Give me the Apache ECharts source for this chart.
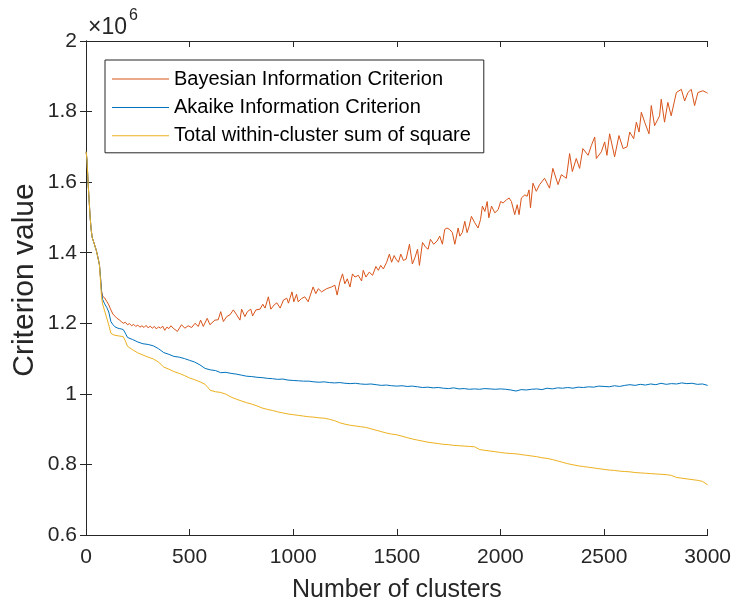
<!DOCTYPE html>
<html>
<head>
<meta charset="utf-8">
<script src="https://cdn.jsdelivr.net/npm/echarts@6/dist/echarts.min.js"></script>
<style>
  html, body { margin: 0; padding: 0; background: #ffffff; }
  #chart { width: 734px; height: 608px; }
</style>
</head>
<body>
<div id="chart"></div>
<script>
// Criterion values (in units of 10^6) against the number of clusters.

const bicClusters = [
  1, 5, 10, 15, 20, 25, 30, 40, 50, 60, 65, 70, 75, 80, 90, 100, 110, 120, 130, 140,
  150, 160, 170, 180, 190, 200, 210, 220, 230, 240, 250, 260, 270, 280, 290, 300, 310, 320, 330, 340,
  350, 360, 370, 380, 390, 400, 410, 421, 441, 461, 477, 493, 510, 526, 542, 553, 566, 585, 598, 622,
  638, 650, 663, 679, 695, 711, 727, 743, 751, 767, 779, 795, 804, 820, 840, 853, 864, 880, 892, 908,
  921, 937, 953, 969, 977, 984, 994, 1003, 1016, 1024, 1040, 1056, 1072, 1096, 1109, 1121, 1137, 1161, 1185, 1201,
  1212, 1225, 1238, 1249, 1261, 1274, 1286, 1298, 1314, 1330, 1338, 1351, 1367, 1383, 1399, 1411, 1422, 1435, 1451, 1464,
  1475, 1487, 1496, 1508, 1519, 1532, 1545, 1561, 1575, 1588, 1600, 1609, 1624, 1640, 1651, 1662, 1678, 1694, 1707, 1720,
  1731, 1742, 1755, 1768, 1780, 1796, 1804, 1816, 1828, 1839, 1849, 1860, 1876, 1892, 1904, 1913, 1925, 1936, 1944, 1957,
  1973, 1989, 2001, 2013, 2029, 2042, 2053, 2069, 2081, 2090, 2101, 2118, 2129, 2138, 2145, 2157, 2173, 2189, 2213, 2237,
  2253, 2278, 2294, 2318, 2334, 2347, 2366, 2382, 2398, 2423, 2439, 2455, 2463, 2487, 2503, 2514, 2527, 2551, 2572, 2592,
  2611, 2624, 2643, 2656, 2669, 2680, 2696, 2717, 2728, 2744, 2768, 2776, 2792, 2808, 2824, 2849, 2873, 2889, 2905, 2921,
  2937, 2953, 2977, 2994, 3000
];

const bicValues = [
  1.686, 1.660, 1.600, 1.550, 1.500, 1.465, 1.443, 1.425, 1.406, 1.380, 1.365, 1.330, 1.292, 1.277, 1.272, 1.262, 1.252, 1.238, 1.226, 1.220,
  1.214, 1.210, 1.205, 1.200, 1.203, 1.196, 1.199, 1.193, 1.197, 1.191, 1.195, 1.189, 1.193, 1.188, 1.194, 1.187, 1.192, 1.186, 1.191, 1.184,
  1.190, 1.186, 1.192, 1.180, 1.189, 1.185, 1.193, 1.186, 1.177, 1.196, 1.186, 1.193, 1.188, 1.200, 1.191, 1.209, 1.191, 1.214, 1.196, 1.209,
  1.210, 1.233, 1.205, 1.219, 1.224, 1.238, 1.224, 1.209, 1.240, 1.219, 1.233, 1.240, 1.221, 1.238, 1.240, 1.254, 1.243, 1.275, 1.240, 1.252,
  1.258, 1.243, 1.266, 1.271, 1.257, 1.252, 1.289, 1.261, 1.282, 1.261, 1.270, 1.275, 1.261, 1.303, 1.284, 1.298, 1.289, 1.298, 1.303, 1.308,
  1.280, 1.317, 1.340, 1.312, 1.326, 1.303, 1.340, 1.331, 1.336, 1.320, 1.350, 1.331, 1.345, 1.336, 1.361, 1.350, 1.364, 1.354, 1.373, 1.396,
  1.373, 1.392, 1.382, 1.373, 1.396, 1.378, 1.382, 1.424, 1.368, 1.387, 1.410, 1.364, 1.429, 1.415, 1.410, 1.438, 1.424, 1.433, 1.447, 1.424,
  1.466, 1.470, 1.466, 1.457, 1.424, 1.470, 1.447, 1.457, 1.489, 1.457, 1.475, 1.503, 1.485, 1.470, 1.494, 1.532, 1.517, 1.545, 1.499, 1.532,
  1.513, 1.522, 1.545, 1.541, 1.550, 1.555, 1.545, 1.508, 1.536, 1.508, 1.555, 1.564, 1.560, 1.578, 1.527, 1.597, 1.574, 1.593, 1.611, 1.583,
  1.639, 1.593, 1.621, 1.611, 1.681, 1.630, 1.667, 1.639, 1.695, 1.676, 1.704, 1.728, 1.667, 1.686, 1.714, 1.676, 1.737, 1.672, 1.732, 1.695,
  1.700, 1.742, 1.723, 1.770, 1.742, 1.798, 1.770, 1.737, 1.817, 1.760, 1.788, 1.835, 1.770, 1.826, 1.788, 1.854, 1.863, 1.830, 1.854, 1.863,
  1.817, 1.854, 1.859, 1.854, 1.852
];

const clusters = [
  1, 5, 10, 15, 20, 25, 30, 40, 50, 60, 65, 70, 75, 80, 90, 100, 110, 120, 130, 140,
  150, 160, 170, 180, 190, 200, 225, 250, 275, 300, 325, 350, 375, 400, 425, 450, 475, 500, 525, 550,
  575, 600, 625, 650, 675, 700, 725, 750, 775, 800, 825, 850, 875, 900, 925, 950, 975, 1000, 1025, 1050,
  1075, 1100, 1125, 1150, 1175, 1200, 1225, 1250, 1275, 1300, 1325, 1350, 1375, 1400, 1425, 1450, 1475, 1500, 1525, 1550,
  1575, 1600, 1625, 1650, 1675, 1700, 1725, 1750, 1775, 1800, 1825, 1850, 1875, 1900, 1925, 1950, 1975, 2000, 2025, 2050,
  2075, 2100, 2125, 2150, 2175, 2200, 2225, 2250, 2275, 2300, 2325, 2350, 2375, 2400, 2425, 2450, 2475, 2500, 2525, 2550,
  2575, 2600, 2625, 2650, 2675, 2700, 2725, 2750, 2775, 2800, 2825, 2850, 2875, 2900, 2925, 2950, 2975, 3000
];

const aicValues = [
  1.686, 1.660, 1.600, 1.550, 1.500, 1.465, 1.443, 1.425, 1.406, 1.380, 1.365, 1.330, 1.290, 1.268, 1.255, 1.245, 1.232, 1.205, 1.196, 1.190,
  1.187, 1.185, 1.184, 1.182, 1.172, 1.160, 1.154, 1.147, 1.142, 1.140, 1.136, 1.128, 1.117, 1.112, 1.106, 1.104, 1.100, 1.095, 1.090, 1.082,
  1.072, 1.068, 1.066, 1.060, 1.061, 1.058, 1.056, 1.053, 1.050, 1.049, 1.047, 1.046, 1.044, 1.043, 1.041, 1.042, 1.039, 1.038, 1.037, 1.036,
  1.036, 1.034, 1.033, 1.034, 1.032, 1.031, 1.032, 1.030, 1.029, 1.030, 1.028, 1.027, 1.028, 1.026, 1.024, 1.025, 1.023, 1.022, 1.023, 1.021,
  1.022, 1.020, 1.018, 1.019, 1.017, 1.018, 1.016, 1.015, 1.017, 1.014, 1.015, 1.013, 1.014, 1.013, 1.015, 1.014, 1.013, 1.014, 1.013, 1.011,
  1.008, 1.012, 1.011, 1.013, 1.014, 1.012, 1.016, 1.014, 1.017, 1.016, 1.018, 1.016, 1.019, 1.018, 1.020, 1.019, 1.022, 1.021, 1.020, 1.023,
  1.021, 1.024, 1.026, 1.024, 1.027, 1.025, 1.028, 1.026, 1.030, 1.027, 1.029, 1.028, 1.031, 1.029, 1.030, 1.027, 1.028, 1.024
];

const wcssValues = [
  1.686, 1.660, 1.600, 1.550, 1.500, 1.465, 1.443, 1.425, 1.406, 1.380, 1.365, 1.320, 1.275, 1.255, 1.235, 1.215, 1.195, 1.172, 1.168, 1.166,
  1.165, 1.164, 1.163, 1.162, 1.150, 1.135, 1.125, 1.116, 1.110, 1.104, 1.099, 1.090, 1.076, 1.070, 1.063, 1.058, 1.052, 1.045, 1.040, 1.034,
  1.027, 1.010, 1.006, 1.004, 0.999, 0.991, 0.985, 0.980, 0.975, 0.971, 0.966, 0.960, 0.956, 0.953, 0.949, 0.946, 0.943, 0.941, 0.939, 0.937,
  0.935, 0.934, 0.932, 0.931, 0.928, 0.924, 0.918, 0.914, 0.911, 0.909, 0.907, 0.905, 0.901, 0.897, 0.893, 0.889, 0.886, 0.884, 0.880, 0.876,
  0.872, 0.869, 0.866, 0.863, 0.861, 0.859, 0.857, 0.856, 0.854, 0.853, 0.852, 0.851, 0.850, 0.842, 0.840, 0.838, 0.836, 0.834, 0.832, 0.831,
  0.830, 0.828, 0.826, 0.824, 0.822, 0.819, 0.817, 0.814, 0.810, 0.806, 0.802, 0.799, 0.796, 0.794, 0.792, 0.790, 0.788, 0.786, 0.784, 0.783,
  0.781, 0.780, 0.779, 0.777, 0.776, 0.775, 0.774, 0.773, 0.772, 0.771, 0.769, 0.763, 0.761, 0.759, 0.757, 0.755, 0.752, 0.742
];

const seriesNames = [
  'Bayesian Information Criterion',
  'Akaike Information Criterion',
  'Total within-cluster sum of square'
];
const seriesColors = ['#D95319', '#0072BD', '#EDB120'];

const yTickLabels = ['0.6', '0.8', '1', '1.2', '1.4', '1.6', '1.8', '2'];
const xTickLabels = ['0', '500', '1000', '1500', '2000', '2500', '3000'];

const SCALE = 1e6;
const FONT = "'Liberation Sans', Arial, Helvetica, sans-serif";
const INK = '#262626';

function pairs(xs, ys) {
  return xs.map((x, i) => [x, ys[i] * SCALE]);
}

const chart = echarts.init(document.getElementById('chart'), null, { renderer: 'canvas' });

const axisCommon = {
  axisLine: { show: true, lineStyle: { color: INK, width: 1 } },
  axisTick: { show: true, inside: true, length: 6, lineStyle: { color: INK, width: 1 } },
  splitLine: { show: false }
};

chart.setOption({
  animation: false,
  backgroundColor: '#ffffff',
  grid: { left: 86, right: 26, top: 41, bottom: 67, containLabel: false },
  legend: {
    orient: 'vertical',
    left: 105,
    top: 60,
    padding: [9, 13, 7, 7],
    icon: 'rect',
    itemWidth: 57,
    itemHeight: 1,
    itemGap: 8.4,
    borderColor: INK,
    borderWidth: 1,
    backgroundColor: '#ffffff',
    textStyle: { fontFamily: FONT, fontSize: 20, color: '#000000' },
    data: seriesNames
  },
  xAxis: [
    Object.assign({}, axisCommon, {
      type: 'value', position: 'bottom', min: 0, max: 3000, interval: 500,
      name: 'Number of clusters', nameLocation: 'middle', nameGap: 43,
      nameTextStyle: { fontFamily: FONT, fontSize: 25, color: INK },
      axisLabel: {
        fontFamily: FONT, fontSize: 21, color: INK, margin: 12,
        formatter: (v) => xTickLabels[Math.round(v / 500)]
      }
    }),
    Object.assign({}, axisCommon, {
      type: 'value', position: 'top', min: 0, max: 3000, interval: 500,
      axisLabel: { show: false }
    })
  ],
  yAxis: [
    Object.assign({}, axisCommon, {
      type: 'value', position: 'left', min: 0.6 * SCALE, max: 2 * SCALE, interval: 0.2 * SCALE,
      axisLabel: {
        fontFamily: FONT, fontSize: 21, color: INK, margin: 9,
        formatter: (v) => yTickLabels[Math.round((v / SCALE - 0.6) / 0.2)]
      }
    }),
    Object.assign({}, axisCommon, {
      type: 'value', position: 'right', min: 0.6 * SCALE, max: 2 * SCALE, interval: 0.2 * SCALE,
      axisLabel: { show: false }
    })
  ],
  graphic: [
    {
      type: 'text', x: 25, y: 280, rotation: Math.PI / 2,
      style: {
        text: 'Criterion value', fontFamily: FONT, fontSize: 30, fill: INK,
        align: 'center', verticalAlign: 'middle'
      }
    },
    { type: 'text', left: 88, top: 16, style: { text: '\u00d710', fontFamily: FONT, fontSize: 23, fill: INK } },
    { type: 'text', left: 129, top: 8, style: { text: '6', fontFamily: FONT, fontSize: 16, fill: INK } }
  ],
  series: [
    {
      name: seriesNames[0], type: 'line', symbol: 'none', sampling: 'none',
      data: pairs(bicClusters, bicValues),
      lineStyle: { color: seriesColors[0], width: 1 }, itemStyle: { color: seriesColors[0] }
    },
    {
      name: seriesNames[1], type: 'line', symbol: 'none', sampling: 'none',
      data: pairs(clusters, aicValues),
      lineStyle: { color: seriesColors[1], width: 1 }, itemStyle: { color: seriesColors[1] }
    },
    {
      name: seriesNames[2], type: 'line', symbol: 'none', sampling: 'none',
      data: pairs(clusters, wcssValues),
      lineStyle: { color: seriesColors[2], width: 1 }, itemStyle: { color: seriesColors[2] }
    }
  ]
});
</script>
</body>
</html>
